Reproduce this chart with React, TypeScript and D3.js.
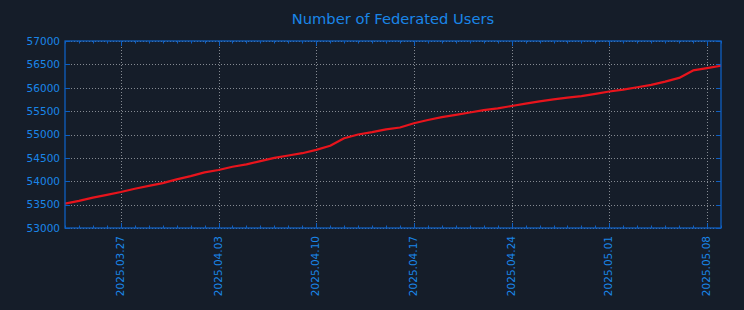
import React, { useEffect, useRef } from "react";
import * as d3 from "d3";

const START_DATE = "2025-03-23";
const userCounts = [
  53520, 53580, 53650, 53710, 53770, 53840, 53900, 53960, 54040, 54110,
  54190, 54240, 54310, 54360, 54430, 54500, 54550, 54600, 54670, 54760,
  54920, 55000, 55050, 55110, 55150, 55240, 55310, 55370, 55420, 55470,
  55520, 55560, 55610, 55660, 55710, 55750, 55790, 55820, 55870, 55920,
  55960, 56010, 56060, 56130, 56210, 56370, 56420, 56470,
];
const yTicks = [53000, 53500, 54000, 54500, 55000, 55500, 56000, 56500, 57000];
const xTickLabels = ["2025-03-27", "2025-04-03", "2025-04-10", "2025-04-17", "2025-04-24", "2025-05-01", "2025-05-08"];
const TITLE = "Number of Federated Users";

const W = 744, H = 310;
const M = { left: 65, right: 721, top: 41, bottom: 228 };
const BG = "#151d29";
const BLUE_TEXT = "#1a86e8";
const BLUE_AXIS = "#0f5fc0";
const GRID = "#858a92";
const RED = "#e8141c";

export default function App() {
  const ref = useRef<SVGSVGElement>(null);
  useEffect(() => {
    const svg = d3.select(ref.current);
    svg.selectAll("*").remove();
    const parse = d3.utcParse("%Y-%m-%d");
    const start = parse(START_DATE)!;
    const data = userCounts.map((v, i) => ({ d: d3.utcDay.offset(start, i), v }));
    const x = d3.scaleUtc().domain([data[0].d, data[data.length - 1].d]).range([M.left, M.right]);
    const y = d3.scaleLinear().domain([53000, 57000]).range([M.bottom, M.top]);
    const xTicks = xTickLabels.map((s) => parse(s)!);
    const fmt = d3.utcFormat("%Y.%m.%d");

    svg.append("rect").attr("width", W).attr("height", H).attr("fill", BG);

    svg.append("text").attr("x", 393).attr("y", 24).attr("text-anchor", "middle")
      .attr("font-family", "DejaVu Sans").attr("font-size", 14.7).attr("fill", BLUE_TEXT).text(TITLE);

    const g = svg.append("g");
    // grid
    yTicks.forEach((t) => {
      g.append("line").attr("x1", M.left).attr("x2", M.right).attr("y1", Math.round(y(t)) + 0.5).attr("y2", Math.round(y(t)) + 0.5)
        .attr("stroke", GRID).attr("stroke-width", 1).attr("stroke-dasharray", "1,2");
    });
    xTicks.forEach((t) => {
      g.append("line").attr("x1", Math.round(x(t)) + 0.5).attr("x2", Math.round(x(t)) + 0.5).attr("y1", M.top).attr("y2", M.bottom)
        .attr("stroke", GRID).attr("stroke-width", 1).attr("stroke-dasharray", "1,2");
    });
    // minor day ticks
    data.forEach((p) => {
      const px = Math.round(x(p.d)) + 0.5;
      g.append("line").attr("x1", px).attr("x2", px).attr("y1", M.bottom).attr("y2", M.bottom - 2.5).attr("stroke", BLUE_AXIS);
      g.append("line").attr("x1", px).attr("x2", px).attr("y1", M.top).attr("y2", M.top + 2.5).attr("stroke", BLUE_AXIS);
    });
    // major ticks
    xTicks.forEach((t) => {
      const px = Math.round(x(t)) + 0.5;
      g.append("line").attr("x1", px).attr("x2", px).attr("y1", M.bottom).attr("y2", M.bottom - 5).attr("stroke", BLUE_AXIS);
      g.append("line").attr("x1", px).attr("x2", px).attr("y1", M.top).attr("y2", M.top + 5).attr("stroke", BLUE_AXIS);
    });
    yTicks.forEach((t) => {
      const py = Math.round(y(t)) + 0.5;
      g.append("line").attr("x1", M.left).attr("x2", M.left + 5).attr("y1", py).attr("y2", py).attr("stroke", BLUE_AXIS);
      g.append("line").attr("x1", M.right).attr("x2", M.right - 5).attr("y1", py).attr("y2", py).attr("stroke", BLUE_AXIS);
    });

    // line
    const line = d3.line<{ d: Date; v: number }>().x((p) => x(p.d)).y((p) => y(p.v));
    g.append("path").datum(data).attr("d", line).attr("fill", "none").attr("stroke", RED)
      .attr("stroke-width", 2.2).attr("stroke-linejoin", "round");

    // border
    g.append("rect").attr("x", M.left).attr("y", M.top).attr("width", M.right - M.left).attr("height", M.bottom - M.top)
      .attr("fill", "none").attr("stroke", BLUE_AXIS).attr("stroke-width", 1.3);

    // y labels
    yTicks.forEach((t) => {
      g.append("text").attr("x", M.left - 5).attr("y", y(t)).attr("dy", "0.36em").attr("text-anchor", "end")
        .attr("font-family", "DejaVu Sans").attr("font-size", 10.5).attr("fill", BLUE_TEXT).text(String(t));
    });
    // x labels
    xTicks.forEach((t) => {
      const px = x(t);
      g.append("text").attr("transform", `translate(${px + 3},${M.bottom + 8}) rotate(-90)`)
        .attr("text-anchor", "end").attr("font-family", "DejaVu Sans").attr("font-size", 10.5)
        .attr("fill", BLUE_TEXT).text(fmt(t));
    });
  }, []);
  return (
    <svg ref={ref} width={W} height={H} style={{ position: "absolute", left: 0, top: 0, display: "block" }} />
  );
}
